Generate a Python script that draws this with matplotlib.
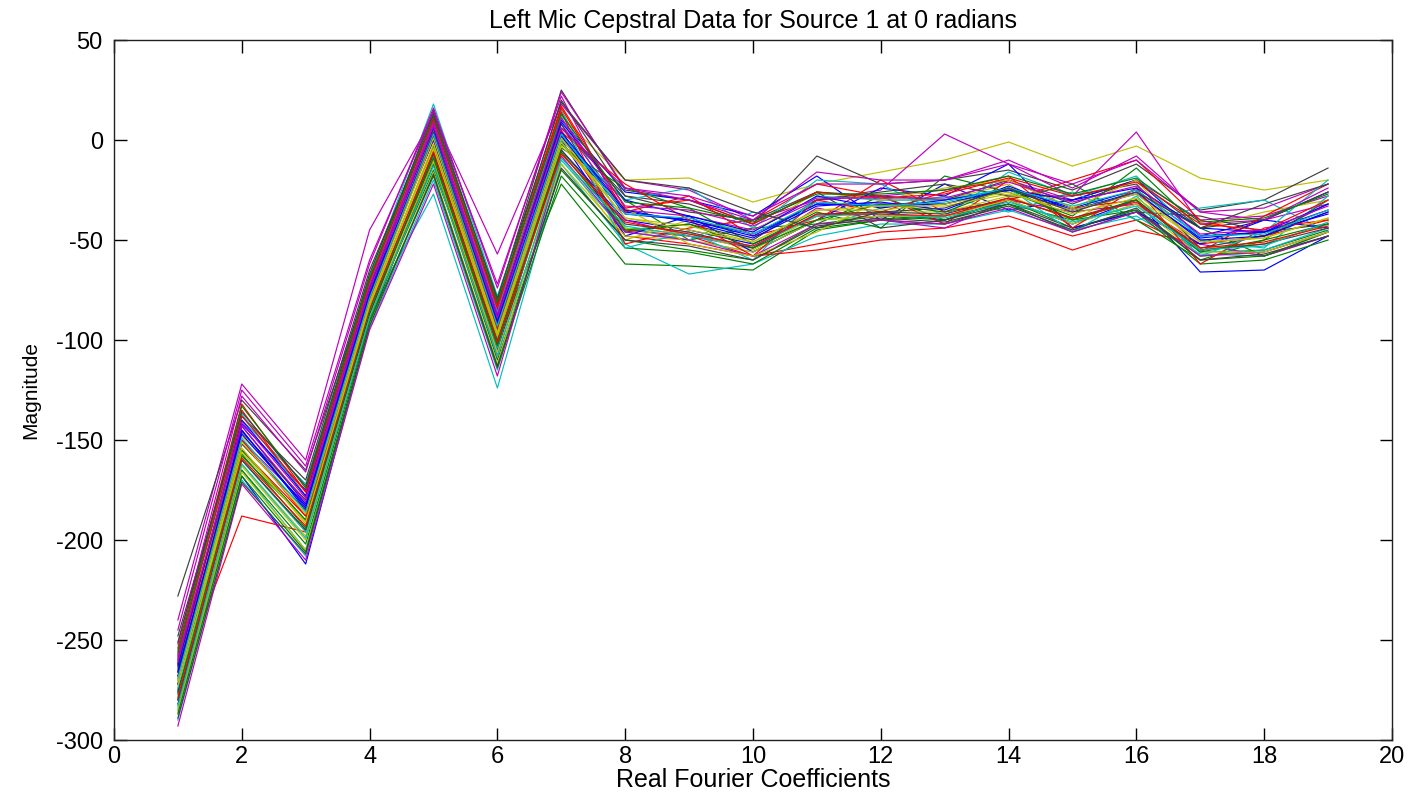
import numpy as np
import matplotlib
matplotlib.use("Agg")
import matplotlib.pyplot as plt

# coefficient index on the x axis
coef = np.arange(1, 20)

# cepstral frames, grouped by the colour they were drawn in (matlab colour order)
blue_frames = [
    [-282, -168, -212, -92, -8, -105, -5, -40, -45, -52, -38, -36, -40, -30, -42, -30, -66, -65, -48],
    [-262, -142, -175, -72, 8, -85, 10, -26, -30, -38, -18, -40, -22, -35, -30, -20, -48, -40, -26],
    [-272, -145, -185, -78, 2, -92, 3, -36, -40, -47, -32, -32, -32, -24, -34, -25, -48, -46, -35],
    [-276, -143, -182, -75, 0, -95, 0, -48, -38, -56, -40, -24, -28, -12, -44, -36, -52, -40, -44],
    [-268, -145, -184, -79, 1, -93, 2, -37, -40, -48, -32, -33, -32, -25, -35, -26, -50, -48, -36],
    [-263, -140, -178, -74, 6, -88, 9, -30, -38, -46, -28, -34, -30, -25, -30, -24, -44, -46, -32],
    [-266, -147, -183, -77, 3, -91, 4, -35, -41, -49, -33, -31, -35, -23, -35, -27, -49, -46, -37],
]
green_frames = [
    [-270, -160, -195, -88, -15, -100, -22, -62, -63, -65, -45, -40, -38, -32, -40, -35, -58, -55, -45],
    [-275, -158, -190, -82, -3, -98, -2, -30, -50, -44, -42, -28, -40, -30, -22, -40, -60, -50, -30],
    [-280, -165, -202, -90, -12, -110, -15, -50, -55, -60, -42, -38, -40, -30, -44, -35, -60, -58, -48],
    [-264, -155, -190, -84, -6, -100, -4, -24, -34, -52, -36, -44, -18, -26, -38, -14, -44, -58, -46],
    [-287, -168, -206, -91, -18, -114, -18, -54, -56, -62, -44, -40, -42, -32, -46, -36, -62, -60, -50],
    [-277, -157, -194, -85, -9, -103, -6, -45, -42, -54, -40, -32, -36, -24, -40, -30, -56, -50, -42],
    [-256, -133, -174, -69, 12, -81, 13, -31, -34, -41, -27, -27, -25, -18, -27, -19, -41, -39, -27],
]
red_frames = [
    [-272, -188, -196, -90, -10, -108, 2, -45, -48, -58, -52, -46, -44, -38, -48, -40, -55, -52, -42],
    [-268, -155, -188, -78, 0, -95, 5, -48, -52, -58, -55, -50, -48, -43, -55, -45, -52, -48, -40],
    [-258, -135, -178, -73, 8, -86, 14, -52, -44, -40, -22, -28, -42, -20, -34, -30, -56, -38, -22],
    [-254, -132, -176, -70, 10, -84, 16, -36, -28, -48, -40, -20, -36, -30, -20, -10, -40, -48, -36],
    [-262, -150, -188, -80, 2, -94, 4, -22, -40, -58, -30, -36, -26, -18, -44, -24, -62, -44, -40],
    [-257, -138, -176, -71, 11, -83, 17, -34, -30, -42, -26, -29, -27, -19, -28, -21, -42, -45, -30],
    [-279, -159, -193, -84, -6, -101, -7, -41, -47, -53, -37, -37, -38, -29, -39, -31, -54, -51, -43],
]
cyan_frames = [
    [-285, -165, -205, -85, -27, -124, -12, -52, -67, -62, -48, -42, -42, -35, -45, -38, -57, -58, -46],
    [-255, -140, -172, -68, 18, -78, 15, -44, -50, -36, -44, -34, -28, -36, -26, -40, -34, -30, -46],
    [-290, -170, -208, -94, -20, -115, -10, -46, -50, -56, -40, -38, -38, -30, -42, -32, -56, -55, -44],
    [-274, -160, -196, -86, -8, -104, 0, -30, -24, -44, -20, -22, -38, -16, -28, -18, -50, -54, -28],
    [-258, -137, -178, -72, 9, -86, 12, -54, -46, -60, -28, -30, -30, -24, -46, -28, -58, -46, -20],
    [-283, -162, -199, -89, -13, -108, -9, -43, -48, -53, -38, -37, -39, -31, -41, -33, -55, -53, -41],
    [-269, -149, -186, -79, 3, -93, 3, -37, -39, -47, -31, -33, -31, -24, -33, -25, -48, -47, -35],
]
magenta_frames = [
    [-240, -122, -160, -45, 12, -57, 18, -20, -25, -40, -30, -28, -25, -20, -30, -20, -40, -38, -28],
    [-265, -150, -182, -76, 6, -88, 8, -35, -38, -45, -30, -25, 3, -12, -28, 4, -42, -40, -32],
    [-245, -125, -163, -60, 14, -72, 22, -40, -48, -54, -34, -40, -44, -30, -36, -32, -52, -58, -48],
    [-252, -128, -166, -62, 16, -74, 24, -24, -28, -38, -22, -22, -20, -12, -22, -10, -36, -34, -22],
    [-293, -172, -210, -95, -22, -118, -8, -46, -50, -58, -42, -40, -42, -34, -46, -36, -58, -56, -46],
    [-259, -143, -181, -75, 7, -89, 6, -24, -30, -40, -16, -20, -20, -10, -24, -8, -36, -40, -24],
    [-261, -141, -179, -73, 9, -87, 11, -33, -35, -43, -29, -29, -29, -21, -31, -23, -47, -45, -33],
]
yellow_frames = [
    [-260, -148, -180, -80, 5, -90, 12, -20, -19, -31, -22, -16, -10, -1, -13, -3, -19, -25, -20],
    [-278, -162, -198, -86, -5, -102, -8, -50, -40, -46, -26, -30, -30, -22, -40, -24, -44, -36, -30],
    [-286, -166, -205, -92, -16, -112, -6, -44, -47, -55, -38, -36, -36, -28, -40, -30, -54, -52, -42],
    [-284, -163, -200, -88, -10, -106, -12, -48, -50, -56, -40, -38, -38, -30, -42, -32, -58, -56, -46],
    [-270, -154, -192, -82, -4, -98, -3, -34, -52, -58, -46, -30, -24, -20, -34, -20, -56, -56, -46],
    [-271, -151, -187, -81, 1, -96, 1, -39, -45, -51, -35, -35, -32, -26, -37, -29, -51, -49, -39],
    [-273, -156, -191, -83, -2, -97, -1, -39, -43, -51, -35, -33, -33, -27, -35, -27, -51, -49, -39],
]
dark_frames = [
    [-228, -130, -165, -70, 15, -80, 25, -25, -30, -42, -8, -22, -20, -15, -25, -12, -35, -30, -14],
    [-248, -138, -170, -65, 10, -82, 20, -28, -32, -42, -26, -28, -30, -20, -32, -20, -44, -40, -26],
    [-266, -152, -185, -80, 4, -94, 6, -28, -36, -40, -26, -44, -40, -32, -44, -36, -38, -46, -42],
    [-260, -146, -180, -77, 4, -90, 8, -46, -42, -50, -30, -26, -22, -28, -28, -22, -54, -48, -32],
    [-280, -160, -195, -87, -7, -102, -5, -42, -46, -54, -37, -36, -37, -29, -39, -30, -55, -52, -44],
    [-289, -171, -207, -93, -17, -113, -14, -50, -53, -60, -43, -39, -41, -33, -45, -34, -60, -57, -48],
    [-251, -136, -173, -67, 13, -79, 19, -20, -24, -36, -44, -36, -34, -24, -36, -26, -44, -32, -22],
]

groups = [
    (blue_frames, (0, 0, 1)),
    (green_frames, (0, 0.5, 0)),
    (red_frames, (1, 0, 0)),
    (cyan_frames, (0, 0.75, 0.75)),
    (magenta_frames, (0.75, 0, 0.75)),
    (yellow_frames, (0.75, 0.75, 0)),
    (dark_frames, (0.25, 0.25, 0.25)),
]

plt.rcParams['font.family'] = ['Liberation Sans', 'DejaVu Sans']
plt.rcParams['axes.unicode_minus'] = False

fig = plt.figure(figsize=(14.14, 7.99), dpi=100)
ax = fig.add_axes([0.0806, 0.0738, 0.9038, 0.8761])

# plot in the same interleaved order matlab would cycle colours
for i in range(7):
    for frames, col in groups:
        ax.plot(coef, frames[i], color=col, linewidth=0.85)

ax.set_xlim(0, 20)
ax.set_ylim(-300, 50)
ax.set_xticks(np.arange(0, 21, 2))
ax.set_yticks(np.arange(-300, 51, 50))
ax.tick_params(direction='in', length=9, width=1, labelsize=17,
               top=True, right=True)
ax.tick_params(axis='y', pad=8)
ax.tick_params(axis='x', pad=4)
for s in ax.spines.values():
    s.set_linewidth(1.0)
    s.set_color('#222222')

ax.set_title('Left Mic Cepstral Data for Source 1 at 0 radians', fontsize=18, pad=9)
ax.set_xlabel('Real Fourier Coefficients', fontsize=18, labelpad=0)
ax.set_ylabel('Magnitude', fontsize=15)
ax.yaxis.set_label_coords(-0.058, 0.5)

fig.savefig('out.png', dpi=100)
